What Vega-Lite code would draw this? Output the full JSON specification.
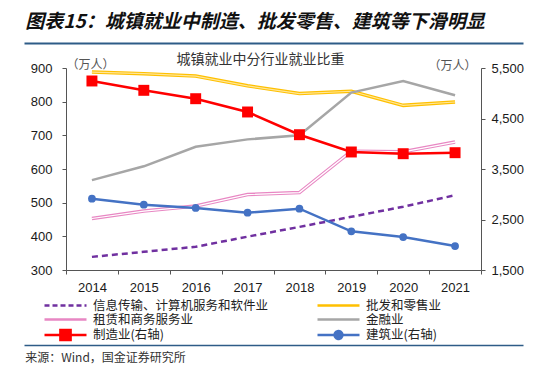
{
  "$schema": "https://vega.github.io/schema/vega-lite/v6.json",
  "padding": {"left": 21, "top": 12, "right": 0, "bottom": 0},
  "autosize": {"type": "pad"},
  "bounds": "flush",
  "center": true,
  "spacing": 25,
  "background": "white",
  "config": {
    "view": {"stroke": null},
    "font": "Liberation Sans",
    "axis": {"labelFont": "Liberation Sans", "labelFontSize": 13, "labelColor": "#1a1a1a", "domainColor": "#555555", "tickColor": "#555555", "grid": false}
  },
  "resolve": {"legend": {"color": "independent"}, "scale": {"x": "independent", "color": "independent"}},
  "datasets": {
    "frame": [{"a": 0}, {"a": 1}],
    "emp": [
      {"year": "2014", "series": "信息传输、计算机服务和软件业", "side": "L", "value": 339},
      {"year": "2015", "series": "信息传输、计算机服务和软件业", "side": "L", "value": 354},
      {"year": "2016", "series": "信息传输、计算机服务和软件业", "side": "L", "value": 369},
      {"year": "2017", "series": "信息传输、计算机服务和软件业", "side": "L", "value": 399},
      {"year": "2018", "series": "信息传输、计算机服务和软件业", "side": "L", "value": 428},
      {"year": "2019", "series": "信息传输、计算机服务和软件业", "side": "L", "value": 458},
      {"year": "2020", "series": "信息传输、计算机服务和软件业", "side": "L", "value": 488},
      {"year": "2021", "series": "信息传输、计算机服务和软件业", "side": "L", "value": 522},
      {"year": "2014", "series": "批发和零售业", "side": "L", "value": 888},
      {"year": "2015", "series": "批发和零售业", "side": "L", "value": 883},
      {"year": "2016", "series": "批发和零售业", "side": "L", "value": 876},
      {"year": "2017", "series": "批发和零售业", "side": "L", "value": 847},
      {"year": "2018", "series": "批发和零售业", "side": "L", "value": 824},
      {"year": "2019", "series": "批发和零售业", "side": "L", "value": 831},
      {"year": "2020", "series": "批发和零售业", "side": "L", "value": 789},
      {"year": "2021", "series": "批发和零售业", "side": "L", "value": 799},
      {"year": "2014", "series": "租赁和商务服务业", "side": "L", "value": 453},
      {"year": "2015", "series": "租赁和商务服务业", "side": "L", "value": 475},
      {"year": "2016", "series": "租赁和商务服务业", "side": "L", "value": 490},
      {"year": "2017", "series": "租赁和商务服务业", "side": "L", "value": 524},
      {"year": "2018", "series": "租赁和商务服务业", "side": "L", "value": 530},
      {"year": "2019", "series": "租赁和商务服务业", "side": "L", "value": 653},
      {"year": "2020", "series": "租赁和商务服务业", "side": "L", "value": 651},
      {"year": "2021", "series": "租赁和商务服务业", "side": "L", "value": 680},
      {"year": "2014", "series": "金融业", "side": "L", "value": 567},
      {"year": "2015", "series": "金融业", "side": "L", "value": 608},
      {"year": "2016", "series": "金融业", "side": "L", "value": 666},
      {"year": "2017", "series": "金融业", "side": "L", "value": 688},
      {"year": "2018", "series": "金融业", "side": "L", "value": 700},
      {"year": "2019", "series": "金融业", "side": "L", "value": 827},
      {"year": "2020", "series": "金融业", "side": "L", "value": 861},
      {"year": "2021", "series": "金融业", "side": "L", "value": 819},
      {"year": "2014", "series": "制造业(右轴)", "side": "R", "value": 5243},
      {"year": "2015", "series": "制造业(右轴)", "side": "R", "value": 5058},
      {"year": "2016", "series": "制造业(右轴)", "side": "R", "value": 4892},
      {"year": "2017", "series": "制造业(右轴)", "side": "R", "value": 4629},
      {"year": "2018", "series": "制造业(右轴)", "side": "R", "value": 4179},
      {"year": "2019", "series": "制造业(右轴)", "side": "R", "value": 3837},
      {"year": "2020", "series": "制造业(右轴)", "side": "R", "value": 3803},
      {"year": "2021", "series": "制造业(右轴)", "side": "R", "value": 3823},
      {"year": "2014", "series": "建筑业(右轴)", "side": "R", "value": 2912},
      {"year": "2015", "series": "建筑业(右轴)", "side": "R", "value": 2793},
      {"year": "2016", "series": "建筑业(右轴)", "side": "R", "value": 2728},
      {"year": "2017", "series": "建筑业(右轴)", "side": "R", "value": 2635},
      {"year": "2018", "series": "建筑业(右轴)", "side": "R", "value": 2714},
      {"year": "2019", "series": "建筑业(右轴)", "side": "R", "value": 2266},
      {"year": "2020", "series": "建筑业(右轴)", "side": "R", "value": 2153},
      {"year": "2021", "series": "建筑业(右轴)", "side": "R", "value": 1975}
    ]
  },
  "vconcat": [
    {
      "width": 499,
      "height": 1,
      "data": {"name": "frame"},
      "title": {"text": "图表15：城镇就业中制造、批发零售、建筑等下滑明显", "anchor": "start", "font": "Noto Sans CJK SC", "fontSize": 19, "fontWeight": "bold", "fontStyle": "italic", "color": "#111111", "offset": 8, "dx": 4},
      "mark": {"type": "point", "opacity": 0},
      "encoding": {
        "x": {"field": "a", "type": "quantitative", "scale": {"nice": false, "zero": false},
          "axis": {"orient": "bottom", "domain": true, "domainColor": "#2E5C87", "domainWidth": 2, "ticks": false, "labels": false, "grid": false, "title": null}}
      }
    },
    {
      "width": 415,
      "height": 202,
      "data": {"name": "emp"},
      "title": {"text": "城镇就业中分行业就业比重", "font": "Noto Sans CJK SC", "fontSize": 14, "fontWeight": "normal", "color": "#333333", "anchor": "middle", "dx": -13, "offset": -9},
      "encoding": {
        "x": {"field": "year", "type": "ordinal", "title": null,
          "axis": {"labelAngle": 0, "tickBand": "extent", "tickSize": 4, "labelPadding": 7, "domainWidth": 1}}
      },
      "layer": [
        {
          "encoding": {
            "y": {"field": "value", "type": "quantitative", "scale": {"domain": [300, 900], "nice": false, "zero": false},
              "axis": {"values": [300, 400, 500, 600, 700, 800, 900], "tickSize": 4, "labelPadding": 10, "title": "（万人）", "titleAngle": 0, "titleAlign": "left", "titleBaseline": "middle", "titleX": 0, "titleY": -4, "titleFont": "Noto Sans CJK SC", "titleFontSize": 12, "titleFontWeight": "normal", "titleColor": "#555555"}},
            "color": {"field": "series", "type": "nominal",
              "scale": {"domain": ["信息传输、计算机服务和软件业", "批发和零售业", "租赁和商务服务业", "金融业", "制造业(右轴)", "建筑业(右轴)"],
                "range": ["#7030A0", "#FFC000", "#E887C3", "#A6A6A6", "#FF0000", "#4472C4"]},
              "legend": {"orient": "none", "direction": "horizontal", "legendX": -8, "legendY": 230, "columns": 2, "columnPadding": 43, "rowPadding": -1.5, "padding": 0,
                "title": null, "symbolSize": 144, "symbolStrokeWidth": 2.5, "labelFont": "Noto Sans CJK SC", "labelFontSize": 12.5, "labelColor": "#222222", "labelOffset": 20, "labelLimit": 300,
                "encode": {"symbols": {"update": {
                  "shape": {"signal": "datum.value == '制造业(右轴)' ? 'M-3.5,0H3.5M-0.85,-0.85H0.85V0.85H-0.85Z' : datum.value == '建筑业(右轴)' ? 'M-3.5,0H3.5M0.65,0A0.65,0.65,0,1,1,-0.65,0A0.65,0.65,0,1,1,0.65,0Z' : 'M-3.5,0H3.5'"},
                  "fill": {"signal": "datum.value == '制造业(右轴)' ? '#FF0000' : datum.value == '建筑业(右轴)' ? '#4472C4' : 'transparent'"},
                  "strokeDash": {"signal": "datum.value == '信息传输、计算机服务和软件业' ? [5, 3] : [1, 0]"}
                }}}}}
          },
          "layer": [
            {"transform": [{"filter": "datum.series == '批发和零售业'"}], "mark": {"type": "line", "strokeWidth": 3.5}},
            {"transform": [{"filter": "datum.series == '批发和零售业'"}], "mark": {"type": "line", "strokeWidth": 1.2}, "encoding": {"color": {"value": "#FFE699"}}},
            {"transform": [{"filter": "datum.series == '金融业'"}], "mark": {"type": "line", "strokeWidth": 2.5}},
            {"transform": [{"filter": "datum.series == '租赁和商务服务业'"}], "mark": {"type": "line", "strokeWidth": 3.5}},
            {"transform": [{"filter": "datum.series == '租赁和商务服务业'"}], "mark": {"type": "line", "strokeWidth": 1.2}, "encoding": {"color": {"value": "#FFFFFF"}}},
            {"transform": [{"filter": "datum.series == '信息传输、计算机服务和软件业'"}], "mark": {"type": "line", "strokeWidth": 2.5, "strokeDash": [6, 4]}}
          ]
        },
        {
          "encoding": {
            "y": {"field": "value", "type": "quantitative", "scale": {"domain": [1500, 5500], "nice": false, "zero": false},
              "axis": {"orient": "right", "values": [1500, 2500, 3500, 4500, 5500], "format": ",.0f", "tickSize": 4, "labelPadding": 6, "title": "（万人）", "titleAngle": 0, "titleAlign": "right", "titleBaseline": "middle", "titleX": -5, "titleY": -3, "titleFont": "Noto Sans CJK SC", "titleFontSize": 12, "titleFontWeight": "normal", "titleColor": "#555555"}}
          },
          "layer": [
            {"transform": [{"filter": "datum.series == '建筑业(右轴)'"}], "mark": {"type": "line", "strokeWidth": 2.5, "color": "#4472C4"}},
            {"transform": [{"filter": "datum.series == '建筑业(右轴)'"}], "mark": {"type": "point", "shape": "circle", "filled": true, "size": 60, "opacity": 1, "color": "#4472C4"}},
            {"transform": [{"filter": "datum.series == '制造业(右轴)'"}], "mark": {"type": "line", "strokeWidth": 2.5, "color": "#FF0000"}},
            {"transform": [{"filter": "datum.series == '制造业(右轴)'"}], "mark": {"type": "point", "shape": "square", "filled": true, "size": 120, "opacity": 1, "color": "#FF0000"}}
          ]
        }
      ],
      "resolve": {"scale": {"y": "independent"}}
    },
    {
      "width": 499,
      "height": 50,
      "data": {"name": "frame"},
      "title": {"text": "来源：Wind，国金证券研究所", "orient": "bottom", "anchor": "start", "font": "Noto Sans CJK SC", "fontSize": 12, "fontWeight": "normal", "color": "#333333", "offset": 8, "dx": 4},
      "mark": {"type": "point", "opacity": 0},
      "encoding": {
        "x": {"field": "a", "type": "quantitative", "scale": {"nice": false, "zero": false},
          "axis": {"orient": "bottom", "domain": true, "domainColor": "#2E5C87", "domainWidth": 1.5, "ticks": false, "labels": false, "grid": false, "title": null}}
      }
    }
  ]
}
